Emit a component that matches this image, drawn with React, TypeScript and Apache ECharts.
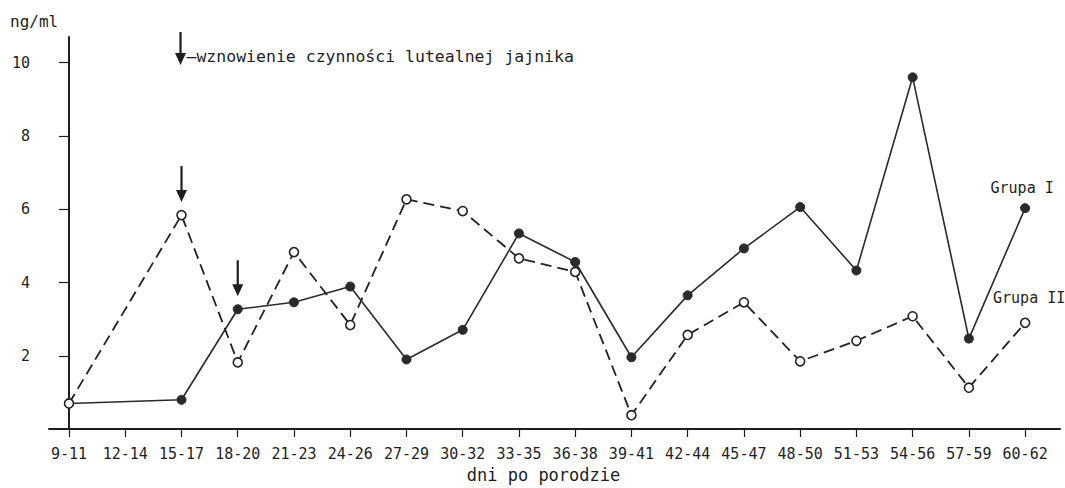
import React, { useEffect, useRef } from "react";
import * as echarts from "echarts";

const categories = ["9-11", "12-14", "15-17", "18-20", "21-23", "24-26", "27-29", "30-32", "33-35", "36-38", "39-41", "42-44", "45-47", "48-50", "51-53", "54-56", "57-59", "60-62"];
const grupaI: (number | null)[] = [0.7, null, 0.8, 3.27, 3.46, 3.89, 1.9, 2.71, 5.34, 4.56, 1.96, 3.65, 4.93, 6.06, 4.33, 9.6, 2.47, 6.03];
const grupaII: (number | null)[] = [0.7, null, 5.84, 1.82, 4.83, 2.84, 6.27, 5.95, 4.66, 4.29, 0.38, 2.57, 3.46, 1.85, 2.41, 3.08, 1.13, 2.9];
const yTicks = [2, 4, 6, 8, 10];
const xTicks = categories.map((_, i) => i);
const arrowMarks = [
  { index: 2, series: "II" },
  { index: 3, series: "I" },
];

const FONT = "DejaVu Sans Mono";
const INK = "#1e1e1e";

function toPairs(vals: (number | null)[], label: string) {
  const pts = vals
    .map((v, i) => [i, v] as [number, number | null])
    .filter((d) => d[1] !== null);
  return pts.map((d, k) =>
    k === pts.length - 1
      ? {
          value: d,
          label: {
            show: true,
            position: "top",
            distance: label === "Grupa I" ? 8 : 12,
            offset: label === "Grupa I" ? [-3, 0] : [4, 0],
            formatter: label,
            fontFamily: FONT,
            fontSize: 15,
            color: INK,
          },
        }
      : { value: d }
  );
}

export default function App() {
  const ref = useRef<HTMLDivElement>(null);
  useEffect(() => {
    if (!ref.current) return;
    const chart = echarts.init(ref.current, undefined, { renderer: "svg" });
    chart.setOption({
      animation: false,
      backgroundColor: "#ffffff",
      grid: { left: 49, right: 5, top: 37, bottom: 53 },
      xAxis: {
        type: "value",
        min: -0.356,
        max: 17.62,
        axisLine: { show: true, lineStyle: { color: INK, width: 2 } },
        axisTick: { show: true, length: 8, customValues: xTicks, lineStyle: { color: INK, width: 1.2 } },
        axisLabel: {
          customValues: xTicks,
          formatter: (v: number) => categories[Math.round(v)] ?? "",
          margin: 17,
          fontFamily: FONT,
          fontSize: 15,
          color: INK,
        },
        splitLine: { show: false },
        name: "dni po porodzie",
        nameLocation: "middle",
        nameGap: 36,
        nameTextStyle: { fontFamily: FONT, fontSize: 17, color: INK, padding: [0, 0, 0, -22] },
      },
      yAxis: {
        type: "value",
        min: 0,
        max: 10.7,
        axisLine: { show: true, lineStyle: { color: INK, width: 2 } },
        axisTick: { show: true, length: 10, customValues: yTicks, lineStyle: { color: INK, width: 1.2 } },
        axisLabel: {
          customValues: yTicks,
          margin: 19,
          fontFamily: FONT,
          fontSize: 15,
          color: INK,
        },
        splitLine: { show: false },
      },
      series: [
        {
          type: "line",
          name: "Grupa I",
          data: toPairs(grupaI, "Grupa I"),
          symbol: "circle",
          symbolSize: 9,
          itemStyle: { color: "#2a2a2a", borderColor: "#2a2a2a", borderWidth: 1 },
          lineStyle: { color: "#2a2a2a", width: 1.6 },
          z: 2,
        },
        {
          type: "line",
          name: "Grupa II",
          data: toPairs(grupaII, "Grupa II"),
          symbol: "circle",
          symbolSize: 9,
          itemStyle: { color: "#ffffff", borderColor: "#222", borderWidth: 1.6 },
          lineStyle: { color: "#222", width: 1.8, type: [11, 6] },
          z: 3,
        },
      ],
    });

    const arrow = (x: number, top: number, tip: number) => [
      { type: "line", shape: { x1: x, y1: top, x2: x, y2: tip - 8 }, style: { stroke: INK, lineWidth: 2.2 }, silent: true },
      {
        type: "polygon",
        shape: { points: [[x - 5.5, tip - 12], [x + 5.5, tip - 12], [x, tip]] },
        style: { fill: INK },
        silent: true,
      },
    ];

    const elements: any[] = [];
    arrowMarks.forEach((m) => {
      const v = m.series === "I" ? grupaI[m.index] : grupaII[m.index];
      const p = chart.convertToPixel({ gridIndex: 0 }, [m.index, v as number]) as number[];
      const tip = p[1] - 13;
      elements.push(...arrow(p[0], tip - 36, tip));
    });
    const lx = (chart.convertToPixel({ gridIndex: 0 }, [2, 0]) as number[])[0] - 1;
    elements.push(...arrow(lx, 32, 65));
    elements.push({
      type: "text",
      left: lx + 6,
      top: 48,
      style: { text: "–wznowienie czynności lutealnej jajnika", font: `16.5px "${FONT}"`, fill: INK },
      silent: true,
    });
    elements.push({
      type: "text",
      left: 10,
      top: 13,
      style: { text: "ng/ml", font: `16px "${FONT}"`, fill: INK },
      silent: true,
    });
    chart.setOption({ graphic: { elements } });

    return () => chart.dispose();
  }, []);
  return (
    <div
      ref={ref}
      style={{ position: "fixed", left: 0, top: 0, width: 1065, height: 488 }}
    />
  );
}
